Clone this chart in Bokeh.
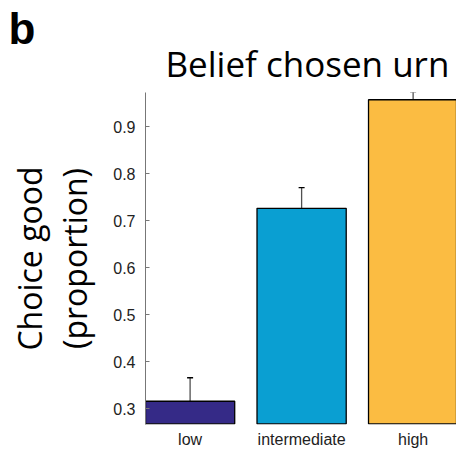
from bokeh.plotting import figure
from bokeh.models import Range1d, FixedTicker, Whisker, TeeHead, ColumnDataSource, Title
from bokeh.embed import file_html
from bokeh.resources import INLINE

categories = ["low", "intermediate", "high"]
positions = [1, 2, 3]
values = [0.3155, 0.726, 0.957]
errors = [0.050, 0.044, 0.017]
colors = ["#352A87", "#0A9FD2", "#FBBC42"]
y_ticks = [0.3, 0.4, 0.5, 0.6, 0.7, 0.8, 0.9]

y_start, y_end = 0.266, 0.9724

src = ColumnDataSource(dict(
    x=positions,
    top=values,
    upper=[v + e for v, e in zip(values, errors)],
    color=colors,
))

p = figure(width=456, height=452, output_backend="svg", toolbar_location=None,
           x_range=Range1d(0.6, 3.389), y_range=Range1d(y_start, y_end),
           min_border_left=145, min_border_right=0, min_border_top=92, min_border_bottom=28,
           title=None)
p.outline_line_color = None
p.xgrid.grid_line_color = None
p.ygrid.grid_line_color = None

p.vbar(x="x", top="top", bottom=y_start + 0.0015, width=0.8, source=src,
       fill_color="color", line_color="black", line_width=1.3)

wh = Whisker(base="x", lower="top", upper="upper", source=src,
             line_color="#505050", line_width=1.3,
             upper_head=TeeHead(size=6, line_color="black", line_width=1.3),
             lower_head=None)
p.add_layout(wh)

# y axis
ya = p.yaxis[0]
ya.ticker = FixedTicker(ticks=y_ticks)
ya.major_tick_in = 4
ya.major_tick_out = 0
ya.minor_tick_line_color = None
ya.axis_line_color = "#777777"
ya.major_tick_line_color = "#777777"
ya.major_label_text_font = "Liberation Sans"
ya.major_label_text_font_size = "16px"
ya.major_label_text_color = "#222222"
ya.major_label_standoff = 10
ya.axis_label = "Choice good\n(proportion)"
ya.axis_label_text_font = "Open Sans"
ya.axis_label_text_font_size = "32px"
ya.axis_label_text_font_style = "normal"
ya.axis_label_text_color = "black"
ya.axis_label_text_line_height = 1.05
ya.axis_label_standoff = 14

# x axis
xa = p.xaxis[0]
xa.ticker = FixedTicker(ticks=positions)
xa.major_label_overrides = {pos: c for pos, c in zip(positions, categories)}
xa.axis_line_color = None
xa.major_tick_line_color = None
xa.minor_tick_line_color = None
xa.major_tick_in = 0
xa.major_tick_out = 0
xa.axis_label_standoff = 0
xa.major_label_text_font = "Liberation Sans"
xa.major_label_text_font_size = "16px"
xa.major_label_text_color = "#222222"
xa.major_label_standoff = 6

p.add_layout(Title(text="Belief chosen urn", align="left", offset=20, text_font="Open Sans",
                   text_font_size="35px", text_font_style="normal", text_color="black",
                   standoff=12), "above")
p.add_layout(Title(text="b", align="left", offset=-137, text_font="Liberation Sans",
                   text_font_size="44px", text_font_style="bold", text_color="black",
                   standoff=-42), "above")

open("out.html", "w").write(file_html(p, INLINE))
